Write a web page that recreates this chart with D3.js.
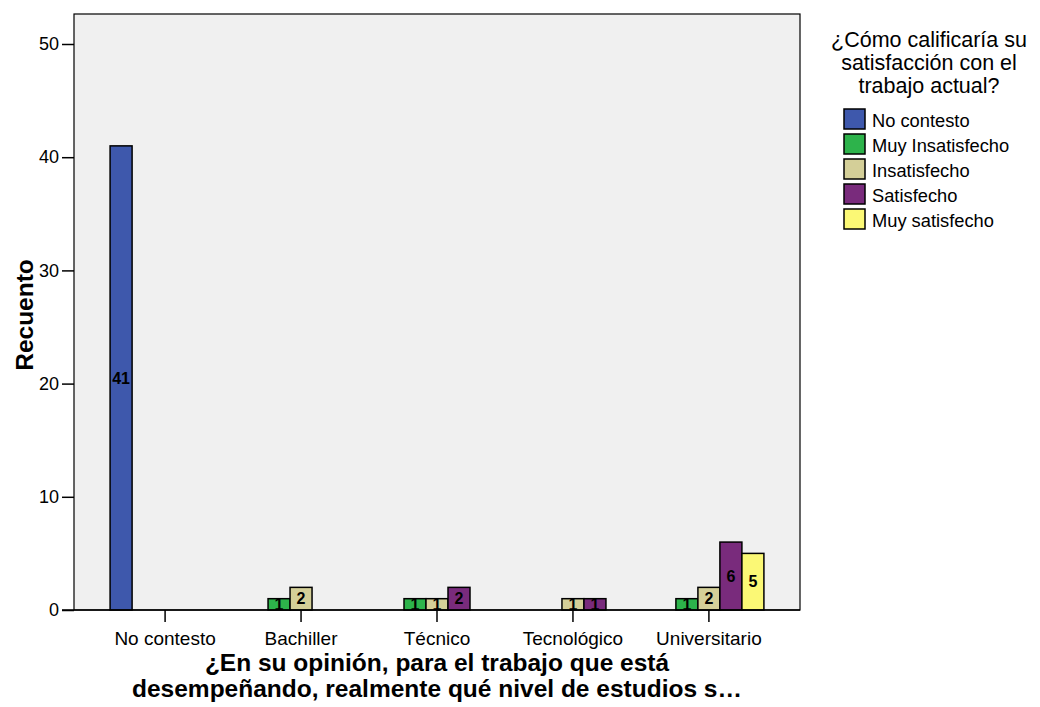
<!DOCTYPE html>
<meta charset="utf-8">
<script src="https://cdn.jsdelivr.net/npm/d3@7"></script>
<style>
  body { margin: 0; background: #fff; }
  text { font-family: "Liberation Sans", Arial, sans-serif; }
</style>
<div id="chart"></div>
<script>
// categories (x axis) and the legend series
const categories = ["No contesto", "Bachiller", "Técnico", "Tecnológico", "Universitario"];
const seriesNames = ["No contesto", "Muy Insatisfecho", "Insatisfecho", "Satisfecho", "Muy satisfecho"];
const seriesColors = ["#3E58AC", "#2DB34B", "#D4CF98", "#792B7C", "#FBF875"];

// counts per series, in category order
const noContesto      = [41, 0, 0, 0, 0];
const muyInsatisfecho = [0, 1, 1, 0, 1];
const insatisfecho    = [0, 2, 1, 1, 2];
const satisfecho      = [0, 0, 2, 1, 6];
const muySatisfecho   = [0, 0, 0, 0, 5];
const seriesValues = [noContesto, muyInsatisfecho, insatisfecho, satisfecho, muySatisfecho];

const yTicks = [0, 10, 20, 30, 40, 50];

const W = 1040, H = 707;
const plot = {left: 74, top: 14, right: 800, bottom: 610};
const FONT = "Liberation Sans, Arial, sans-serif";

const svg = d3.select("#chart").append("svg")
    .attr("width", W).attr("height", H);

const x = d3.scaleBand()
    .domain(categories)
    .range([plot.left, plot.right])
    .paddingOuter(0.17)
    .paddingInner(0);

const x1 = d3.scaleBand()
    .domain(seriesNames)
    .range([-55, 55]);

const y = d3.scaleLinear()
    .domain([0, 52.65])
    .range([plot.bottom, plot.top]);

// plot background
svg.append("rect")
    .attr("x", plot.left).attr("y", plot.top)
    .attr("width", plot.right - plot.left).attr("height", plot.bottom - plot.top)
    .attr("fill", "#F0F0F0")
    .attr("stroke", "#000").attr("stroke-width", 1.2);

// flatten into bar records
const bars = [];
seriesValues.forEach(function (vals, si) {
    vals.forEach(function (v, ci) {
        if (v > 0) bars.push({cat: categories[ci], series: seriesNames[si], color: seriesColors[si], value: v});
    });
});

const defs = svg.append("defs");
const gBars = svg.append("g");

bars.forEach(function (d, i) {
    const bx = x(d.cat) + x.bandwidth() / 2 + x1(d.series);
    const by = y(d.value);
    const bw = x1.bandwidth();
    const bh = y(0) - by;

    // labels of short bars are cut at the bar edge
    defs.append("clipPath").attr("id", "clip" + i)
        .append("rect").attr("x", bx).attr("y", by).attr("width", bw).attr("height", bh);

    gBars.append("rect")
        .attr("x", bx).attr("y", by)
        .attr("width", bw).attr("height", bh)
        .attr("fill", d.color)
        .attr("stroke", "#000").attr("stroke-width", 1.5);

    gBars.append("text")
        .attr("clip-path", "url(#clip" + i + ")")
        .attr("x", bx + bw / 2)
        .attr("y", by + bh / 2)
        .attr("dy", "0.36em")
        .attr("text-anchor", "middle")
        .attr("font-size", 16)
        .attr("font-weight", "bold")
        .attr("fill", "#000")
        .text(d.value);
});

// y axis
const yAxis = svg.append("g")
    .attr("transform", "translate(" + plot.left + ",0)")
    .call(d3.axisLeft(y).tickValues(yTicks).tickSize(12).tickPadding(3));
yAxis.select(".domain").remove();
yAxis.selectAll("line").attr("stroke", "#000").attr("stroke-width", 1.5);
yAxis.selectAll("text").attr("font-size", 18).attr("font-family", FONT).attr("fill", "#000");

// x axis
const xAxis = svg.append("g")
    .attr("transform", "translate(0," + plot.bottom + ")")
    .call(d3.axisBottom(x).tickSize(12).tickPadding(10));
xAxis.select(".domain").remove();
xAxis.selectAll("line").attr("stroke", "#000").attr("stroke-width", 1.5);
xAxis.selectAll("text").attr("font-size", 19).attr("font-family", FONT).attr("fill", "#000");

// base line slightly beyond the frame
svg.append("line")
    .attr("x1", plot.left - 12).attr("x2", plot.right)
    .attr("y1", plot.bottom).attr("y2", plot.bottom)
    .attr("stroke", "#000").attr("stroke-width", 1.5);

// axis titles
svg.append("text")
    .attr("transform", "translate(33,315) rotate(-90)")
    .attr("text-anchor", "middle")
    .attr("font-size", 24.5).attr("font-weight", "bold")
    .text("Recuento");

const xTitle = ["¿En su opinión, para el trabajo que está", "desempeñando, realmente qué nivel de estudios s…"];
svg.append("g").selectAll("text").data(xTitle).join("text")
    .attr("x", 437)
    .attr("y", function (d, i) { return 671 + i * 26; })
    .attr("text-anchor", "middle")
    .attr("font-size", 24.5).attr("font-weight", "bold")
    .text(function (d) { return d; });

// legend
const legendTitle = ["¿Cómo calificaría su", "satisfacción con el", "trabajo actual?"];
svg.append("g").selectAll("text").data(legendTitle).join("text")
    .attr("x", 929)
    .attr("y", function (d, i) { return 47 + i * 23; })
    .attr("text-anchor", "middle")
    .attr("font-size", 21.5)
    .text(function (d) { return d; });

const legend = svg.append("g").selectAll("g").data(seriesNames).join("g")
    .attr("transform", function (d, i) { return "translate(844," + (109 + i * 25) + ")"; });
legend.append("rect")
    .attr("width", 21).attr("height", 20)
    .attr("fill", function (d, i) { return seriesColors[i]; })
    .attr("stroke", "#000").attr("stroke-width", 1.5);
legend.append("text")
    .attr("x", 28).attr("y", 11).attr("dy", "0.36em")
    .attr("font-size", 18.3)
    .text(function (d) { return d; });
</script>
